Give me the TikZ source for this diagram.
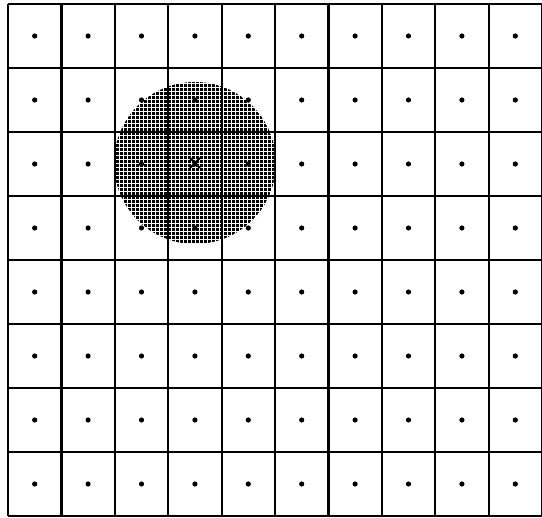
\documentclass[tikz,border=0pt]{standalone}
\begin{document}
\begin{tikzpicture}[x=1pt,y=-1pt,
  gridline/.style={line width=2.2pt,black},
  centredot/.style={fill=black}]
\useasboundingbox (0,0) rectangle (542,518);
\fill[white] (0,0) rectangle (542,518);
% dotted disc
\begin{scope}
  \clip (195,163) circle [radius=81];
  \foreach \i in {0,...,41} {
    \foreach \j in {0,...,41} {
      \fill[black] ({112+\i*4},{80+\j*4}) rectangle ++(2.7,2.7);
    }
  }
\end{scope}
% grid
\foreach \i in {0,...,10} {
  \draw[gridline] ({8+53.4*\i},4) -- ({8+53.4*\i},516);
}
\foreach \j in {0,...,8} {
  \draw[gridline] (8,{4+64*\j}) -- (542,{4+64*\j});
}
% cell centre markers
\foreach \i in {0,...,9} {
  \foreach \j in {0,...,7} {
    \fill[centredot] ({8+53.4*(\i+0.5)},{4+64*(\j+0.5)}) circle [radius=2.6];
  }
}
\draw[line width=2pt,black] (190,158) -- (200,168) (190,168) -- (200,158);
\end{tikzpicture}
\end{document}
